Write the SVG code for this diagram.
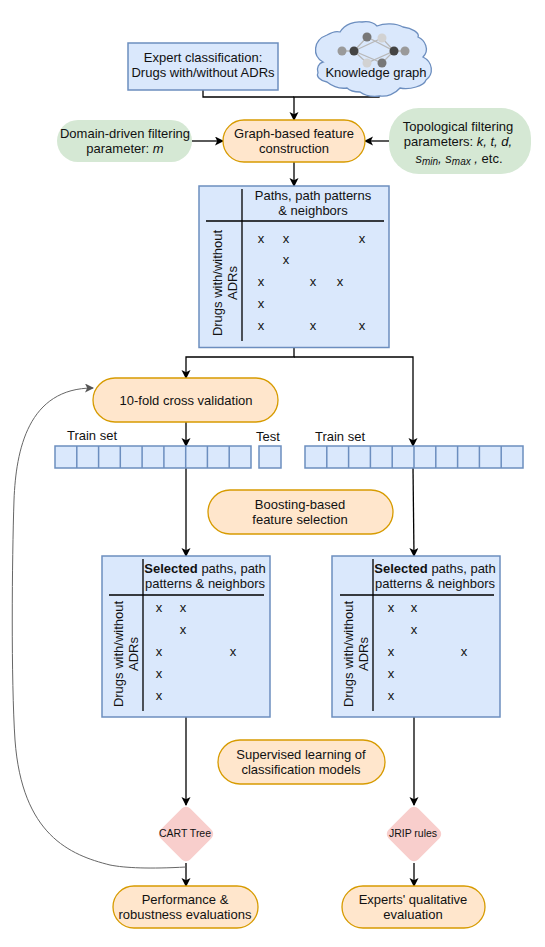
<svg xmlns="http://www.w3.org/2000/svg" width="545" height="947" viewBox="0 0 545 947">
<style>
text{font-family:"Liberation Sans",Arial,Helvetica,sans-serif;font-size:13px;fill:#111;text-anchor:middle}
.blue{fill:#dae8fc;stroke:#6c8ebf;stroke-width:1.5}
.org{fill:#ffe6cc;stroke:#d79b00;stroke-width:1.3}
.grn{fill:#d5e8d4}
.pink{fill:#f8cecc}
.ln{fill:none;stroke:#000;stroke-width:1.3}
.gl{fill:none;stroke:#b8b8b8;stroke-width:1.3}
.sm{font-size:10px}
.dia{font-size:10.500px}
</style>
<defs>
<marker id="a" markerWidth="10" markerHeight="10" refX="8" refY="4.5" orient="auto" markerUnits="userSpaceOnUse"><path d="M0 0L9 4.500L0 9L2.200 4.500Z" fill="#000"/></marker>
<marker id="g" markerWidth="10" markerHeight="10" refX="8" refY="4.5" orient="auto" markerUnits="userSpaceOnUse"><path d="M0 0L9 4.500L0 9L2.200 4.500Z" fill="#555"/></marker>
</defs>
<g id="connectors">
<path class="ln" d="M203 90V97H294"/>
<path class="ln" d="M379 96V97H294V120" marker-end="url(#a)"/>
<path class="ln" d="M192 141H223" marker-end="url(#a)"/>
<path class="ln" d="M389 141H365" marker-end="url(#a)"/>
<path class="ln" d="M294 162V186" marker-end="url(#a)"/>
<path class="ln" d="M294 348V357H186V378" marker-end="url(#a)"/>
<path class="ln" d="M294 357H413V446" marker-end="url(#a)"/>
<path class="ln" d="M186 422V446" marker-end="url(#a)"/>
<path class="ln" d="M186 468V556" marker-end="url(#a)"/>
<path class="ln" d="M413 468L414 556" marker-end="url(#a)"/>
<path class="ln" d="M186 717V805" marker-end="url(#a)"/>
<path class="ln" d="M414 717V805" marker-end="url(#a)"/>
<path class="ln" d="M186 863V886" marker-end="url(#a)"/>
<path class="ln" d="M414 863V886" marker-end="url(#a)"/>
<path d="M186 867C150 869 125 868 110 865C70 855 22 835 15 740C11 680 12 560 14 500C16 450 28 388 93 388" fill="none" stroke="#666" stroke-width="1" marker-end="url(#g)"/>
</g>
<g id="expert"><rect class="blue" x="128" y="43" width="150" height="47"/><text x="203" y="62">Expert classification:</text><text x="203" y="77">Drugs with/without ADRs</text></g>
<g id="knowledge-graph">
<path d="M323 62C312 56 313 40 327 35C332 32 337 31 340 32C345 24 355 21 362 22C368 21 374 23 377 26C384 23 396 23 403 27C412 28 420 33 418 37C425 40 430 50 423 57C433 62 434 74 426 80C424 86 410 90 400 88C395 94 387 97 380 96C372 97 364 95 360 92C355 92 350 91 347 88C340 89 332 86 327 82C320 81 316 76 318 73C316 68 319 63 323 62Z" fill="#dae8fc" stroke="#6c8ebf" stroke-width="1.3"/>
<path class="gl" d="M354 51L367 37L394 51L382 63L354 51L367 63L394 51L382 38L354 51M342 51H354M394 51H405"/>
<circle cx="342" cy="51" r="4.500" fill="#9a9a9a"/><circle cx="354" cy="51" r="4.500" fill="#444"/><circle cx="367" cy="37" r="4.500" fill="#777"/><circle cx="382" cy="38" r="4.500" fill="#d2d2d2"/><circle cx="367" cy="63" r="4.500" fill="#d2d2d2"/><circle cx="382" cy="63" r="4.500" fill="#777"/><circle cx="394" cy="51" r="4.500" fill="#444"/><circle cx="405" cy="51" r="4.500" fill="#9a9a9a"/>
<text x="376" y="77">Knowledge graph</text></g>
<g id="domain"><rect class="grn" x="57" y="120" width="135" height="42" rx="21"/><text x="125" y="138">Domain-driven filtering</text><text x="125" y="153">parameter: <tspan font-style="italic">m</tspan></text></g>
<g id="graph-feature"><rect class="org" x="223" y="120" width="142" height="42" rx="21"/><text x="294" y="138">Graph-based feature</text><text x="294" y="153">construction</text></g>
<g id="topological"><rect class="grn" x="389" y="108" width="142" height="66" rx="30"/><text x="458" y="131">Topological filtering</text><text x="458" y="146">parameters: <tspan font-style="italic">k, t, d,</tspan></text><text x="459" y="163" font-style="italic">s<tspan class="sm" dy="2">min</tspan><tspan dy="-2">, s</tspan><tspan class="sm" dy="2">max</tspan><tspan dy="-2"> ,</tspan><tspan font-style="normal"> etc.</tspan></text></g>
<g id="matrix-full"><rect class="blue" x="199" y="186" width="190" height="161.500"/><path class="ln" d="M242 189V341M206 221H384"/>
<text x="313" y="200">Paths, path patterns</text><text x="313" y="215">&amp; neighbors</text>
<text transform="translate(222 283) rotate(-90)">Drugs with/without</text><text transform="translate(237 283) rotate(-90)">ADRs</text>
<g><text x="261" y="243">x</text><text x="286" y="243">x</text><text x="362" y="243">x</text><text x="286" y="264">x</text><text x="261" y="286">x</text><text x="313" y="286">x</text><text x="340" y="286">x</text><text x="261" y="308">x</text><text x="261" y="330">x</text><text x="313" y="330">x</text><text x="362" y="330">x</text></g></g>
<g id="cross-validation"><rect class="org" x="93" y="378" width="185" height="44" rx="22"/><text x="186" y="405">10-fold cross validation</text></g>
<g id="train-left"><text x="92" y="440">Train set</text><path class="blue" d="M55 446H251V468H55ZM76.800 446V468M98.600 446V468M120.300 446V468M142.100 446V468M163.900 446V468M185.700 446V468M207.400 446V468M229.200 446V468"/></g>
<g id="test"><text x="268" y="441">Test</text><rect class="blue" x="259" y="446" width="22" height="22"/></g>
<g id="train-right"><text x="340" y="441">Train set</text><path class="blue" d="M305 446H523V468H305ZM326.800 446V468M348.600 446V468M370.400 446V468M392.200 446V468M414 446V468M435.800 446V468M457.600 446V468M479.400 446V468M501.200 446V468"/></g>
<g id="boosting"><rect class="org" x="208" y="490" width="185" height="44" rx="22"/><text x="300" y="509">Boosting-based</text><text x="300" y="524">feature selection</text></g>
<g id="matrix-left"><rect class="blue" x="102" y="556" width="168" height="161"/><path class="ln" d="M143 559V711M109 595H264"/>
<text x="205" y="573"><tspan font-weight="bold">Selected</tspan> paths, path</text><text x="205" y="588">patterns &amp; neighbors</text>
<text transform="translate(123 654) rotate(-90)">Drugs with/without</text><text transform="translate(138 654) rotate(-90)">ADRs</text>
<g><text x="159" y="612">x</text><text x="183" y="612">x</text><text x="183" y="634">x</text><text x="159" y="656">x</text><text x="233" y="656">x</text><text x="159" y="678">x</text><text x="159" y="700">x</text></g></g>
<g id="matrix-right"><rect class="blue" x="332" y="556" width="168" height="161"/><path class="ln" d="M373 559V711M340 595H494"/>
<text x="435" y="573"><tspan font-weight="bold">Selected</tspan> paths, path</text><text x="435" y="588">patterns &amp; neighbors</text>
<text transform="translate(353 654) rotate(-90)">Drugs with/without</text><text transform="translate(368 654) rotate(-90)">ADRs</text>
<g><text x="391" y="612">x</text><text x="414" y="612">x</text><text x="414" y="634">x</text><text x="391" y="656">x</text><text x="464" y="656">x</text><text x="391" y="678">x</text><text x="391" y="700">x</text></g></g>
<g id="supervised"><rect class="org" x="218" y="740" width="167" height="44" rx="22"/><text x="301" y="759">Supervised learning of</text><text x="301" y="774">classification models</text></g>
<g id="cart"><rect class="pink" x="165" y="813" width="42" height="42" rx="6" transform="rotate(45 186 834)"/><text class="dia" x="185" y="837">CART Tree</text></g>
<g id="jrip"><rect class="pink" x="393" y="813" width="42" height="42" rx="6" transform="rotate(45 414 834)"/><text class="dia" x="413" y="837">JRIP rules</text></g>
<g id="performance"><rect class="org" x="113" y="886" width="145" height="42" rx="21"/><text x="185" y="904">Performance &amp;</text><text x="185" y="919">robustness evaluations</text></g>
<g id="experts"><rect class="org" x="342" y="886" width="143" height="42" rx="21"/><text x="413" y="904">Experts' qualitative</text><text x="413" y="919">evaluation</text></g>
</svg>
